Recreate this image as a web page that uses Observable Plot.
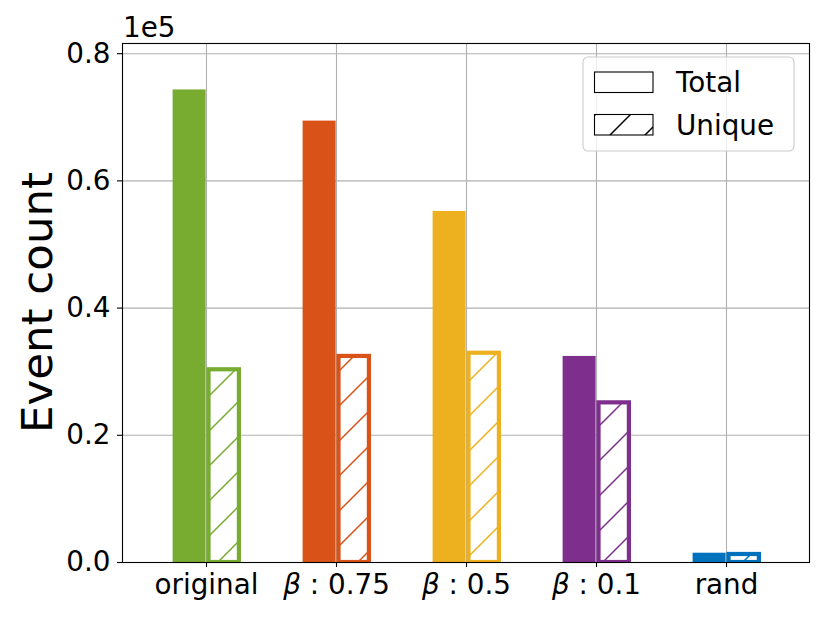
<!DOCTYPE html>
<html><head><meta charset="utf-8">
<script src="https://cdn.jsdelivr.net/npm/d3@7"></script>
<script src="https://cdn.jsdelivr.net/npm/@observablehq/plot@0.6"></script>
<style>body{margin:0;background:#fff} #chart{width:830px;height:623px}</style>
</head><body><div id="chart"></div>
<script>
const categories = ["original", "β : 0.75", "β : 0.5", "β : 0.1", "rand"];
const totalCounts = [74300, 69400, 55200, 32400, 1460];
const uniqueCounts = [30300, 32400, 32900, 25100, 1260];
const colors = ["#77AC30", "#D95319", "#EDB120", "#7E2F8E", "#0072BD"];
const yTicks = [0, 20000, 40000, 60000, 80000];
const seriesLabels = ["Total", "Unique"];
const yLabel = "Event count";
const exponentLabel = "1e5";

const rows = categories.map((c, i) => ({category: c, total: totalCounts[i], unique: uniqueCounts[i], color: colors[i], idx: i}));

const W = 830, H = 623, mL = 122, mR = 21, mT = 43, mB = 61;
const font = "'DejaVu Sans', sans-serif";
const fs = 27.8;
const padOuter = 0.126;
const step = (W - mL - mR) / (categories.length + 2 * padOuter);
const half = step / 2;

const plot = Plot.plot({
  width: W, height: H,
  marginLeft: mL, marginRight: mR, marginTop: mT, marginBottom: mB,
  style: {fontFamily: font, fontSize: fs + "px", background: "white", color: "black", overflow: "visible"},
  x: {type: "band", domain: categories, paddingInner: 0, paddingOuter: padOuter, align: 0.5, label: null},
  y: {domain: [0, 81600], label: null},
  color: {type: "identity"},
  marks: [
    Plot.gridY(yTicks, {stroke: "#b0b0b0", strokeOpacity: 1, strokeWidth: 1.1}),
    Plot.gridX({stroke: "#b0b0b0", strokeOpacity: 1, strokeWidth: 1.1}),
    Plot.barY(rows, {x: "category", y: "total", fill: "color", insetLeft: half - 33.8, insetRight: half}),
    Plot.barY(rows, {x: "category", y: "unique", fill: d => `url(#hatch-${d.idx})`, stroke: "color", strokeWidth: 4.2, insetLeft: half + 2.1, insetRight: half - 33.3, clip: true}),
    Plot.frame({stroke: "black", strokeWidth: 1.1}),
    Plot.axisY(yTicks, {tickFormat: d => (d / 1e5).toFixed(1), tickSize: 5, tickPadding: 7, fontSize: fs, label: null, strokeWidth: 1.1}),
    Plot.axisX({tickSize: 5, tickPadding: 7, fontSize: fs, label: null, strokeWidth: 1.1})
  ]
});
document.getElementById("chart").appendChild(plot);

const svg = d3.select(plot);
const defs = svg.insert("defs", ":first-child");
function addHatch(id, c) {
  const p = defs.append("pattern").attr("id", id).attr("patternUnits", "userSpaceOnUse")
    .attr("width", 35).attr("height", 35).attr("x", 10).attr("y", 0);
  p.append("rect").attr("width", 35).attr("height", 35).attr("fill", "white");
  p.append("path").attr("d", "M0,35L35,0M-5,5L5,-5M30,40L40,30")
    .attr("stroke", c).attr("stroke-width", 1.5).attr("fill", "none");
}
colors.forEach((c, i) => addHatch(`hatch-${i}`, c));
addHatch("hatch-legend", "black");

// italic beta in tick labels
svg.selectAll("text").each(function() {
  const t = this.textContent;
  if (t.startsWith("β")) {
    const el = d3.select(this);
    el.text(null);
    el.append("tspan").attr("font-style", "italic").text("β");
    el.append("tspan").text(t.slice(1));
  }
});

// exponent label
svg.append("text").attr("x", mL + 1).attr("y", 37).attr("text-anchor", "start")
  .attr("font-family", font).attr("font-size", fs).attr("fill", "black").text(exponentLabel);

// y label
svg.append("text").attr("transform", `translate(52,${(mT + H - mB) / 2}) rotate(-90)`)
  .attr("text-anchor", "middle").attr("font-family", font).attr("font-size", 43.5).attr("fill", "black").text(yLabel);

// legend
const lg = svg.append("g").attr("font-family", font).attr("font-size", fs).attr("text-anchor", "start");
lg.append("rect").attr("x", 583).attr("y", 57).attr("width", 211).attr("height", 94).attr("rx", 5)
  .attr("fill", "white").attr("fill-opacity", 0.8).attr("stroke", "#cccccc").attr("stroke-width", 1.1);
seriesLabels.forEach((s, i) => {
  const y0 = 72 + i * 42.5;
  lg.append("rect").attr("x", 594.5).attr("y", y0).attr("width", 58.5).attr("height", 20.5)
    .attr("fill", i === 0 ? "white" : "url(#hatch-legend)").attr("stroke", "black").attr("stroke-width", 1.1);
  lg.append("text").attr("x", 676).attr("y", y0 + 20).attr("text-anchor", "start").attr("fill", "black").text(s);
});
</script>
</body></html>
